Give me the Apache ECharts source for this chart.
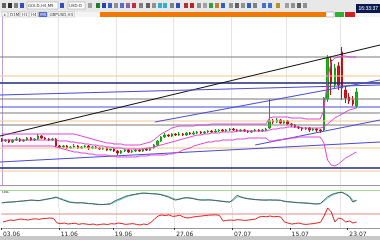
<!DOCTYPE html>
<html><head><meta charset="utf-8">
<script src="https://cdn.jsdelivr.net/npm/echarts@6/dist/echarts.min.js"></script>
<style>html,body{margin:0;padding:0;background:#fff;overflow:hidden}#c{width:380px;height:240px}</style>
</head><body><div id="c"></div>
<script>
// ---- candle data (price) ----
const opens=[1246,1244,1245,1243,1245,1246,1244,1245,1247,1245,1246,1249,1247,1246,1245,
1246,1239,1238,1239,1237,1238,1239,1237,1238,1239,1237,1238,1237,1236,1237,1235,
1236,1234,1232,1234,1235,1233,1234,1235,1234,1236,
1235,1237,1240,
1244,1248,1250,1249,1251,1250,1251,1250,1252,1251,
1252,1253,1252,1253,1254,1253,1254,1255,1254,1255,
1256,1255,1254,1255,1254,1253,1254,1255,1254,1255,
1257,
1264,1263,1265,1262,1264,1261,1260,1258,1257,1256,1257,1255,1256,1255,
1255,1286,1325,1300,1319,1333,1295,1288,1285,1279];
const closes=[1244,1245,1243,1245,1246,1244,1245,1247,1245,1246,1249,1247,1246,1245,1246,
1239,1238,1239,1237,1238,1239,1237,1238,1239,1237,1238,1237,1236,1237,1235,1236,
1234,1232,1234,1235,1233,1234,1235,1234,1236,1235,
1237,1240,1244,
1248,1250,1249,1251,1250,1251,1250,1252,1251,1252,
1253,1252,1253,1254,1253,1254,1255,1254,1255,1256,
1255,1254,1255,1254,1253,1254,1255,1254,1255,1256,
1264,
1263,1265,1262,1264,1261,1260,1258,1257,1256,1257,1255,1256,1255,1254,
1287,1327,1302,1317,1300,1297,1287,1284,1281,1293];
const highs=[1247,1246,1246,1246,1248,1247,1246,1248,1248,1247,1251,1250,1248,1247,1247,
1247,1240,1240,1240,1239,1241,1240,1239,1240,1240,1239,1239,1238,1238,1238,1237,
1237,1235,1235,1236,1236,1235,1236,1236,1237,1237,
1238,1241,1245,
1249,1252,1251,1252,1252,1253,1252,1253,1253,1254,
1254,1254,1254,1255,1255,1256,1256,1256,1256,1257,
1257,1256,1256,1256,1255,1255,1256,1256,1256,1257,
1286,
1266,1267,1266,1265,1265,1262,1261,1259,1258,1258,1258,1257,1257,1256,
1288,1330,1328,1321,1323,1338,1299,1292,1289,1297];
const lows=[1243,1243,1242,1242,1244,1243,1243,1244,1244,1244,1245,1246,1245,1244,1244,
1238,1237,1237,1236,1236,1237,1236,1236,1237,1235,1236,1236,1235,1235,1234,1234,
1233,1230,1231,1233,1232,1232,1233,1233,1233,1234,
1234,1236,1239,
1243,1247,1248,1248,1249,1249,1249,1249,1250,1250,
1251,1251,1251,1252,1252,1252,1253,1253,1253,1254,
1254,1253,1253,1253,1252,1252,1253,1253,1253,1254,
1256,
1261,1262,1261,1261,1260,1258,1257,1256,1254,1255,1253,1254,1253,1252,
1254,1283,1290,1297,1295,1285,1282,1281,1279,1277];
// ---- Bollinger bands ----
const bbUpper=[1251,1251,1251,1251,1251,1251,1251,1251,1251,1251,1251,1251,1251,1251,1251,1251,1251,1251,1251,1251,1251,
1250,1249,1248,1247,1246,1245,
1244,1243,1242,1242,1241,1241,1241,1240,1240,
1240,1240,1240,1241,1242,1243,1245,
1248,1251,1253,1255,1257,1258,
1259,1259,1259,1259,1259,1260,1260,1260,1260,1261,1261,1261,
1261,1261,1261,1261,1261,1261,1261,1261,1261,1261,1261,1261,1261,
1267,1268,1268,1268,1268,1268,1267,1267,1267,1267,1266,1266,1266,1266,1266,
1275,1305,1323,1327,1328,1329,1329,1328,1328,1328];
const bbMiddle=[1245,1245,1245,1245,1245,1245,1245,1245,1245,1245,1245,1245,1245,1245,1245,
1245,1244,1244,1244,1243,1243,
1242,1242,1241,1241,1240,1240,1239,1239,1238,1238,1237,1237,1237,1236,1236,
1236,1236,1236,1236,1237,1237,1238,1239,
1240,1241,1242,1243,1244,1245,1246,1247,1248,1249,1250,1250,1251,1251,1252,1252,1252,
1253,1253,1253,1253,1254,1254,1254,1254,1254,1254,1254,1254,1254,
1255,1256,1256,1257,1257,1258,1258,1258,1258,1257,1257,1257,1257,1257,1257,
1258,1261,1264,1267,1269,1271,1273,1275,1276,1277];
const bbLower=[1239,1239,1239,1239,1239,1239,1239,1239,1239,1239,1239,1239,1239,1239,1239,
1238,1237,1236,1235,1234,1233,1233,1232,1232,1231,
1231,1230,1230,1230,1230,1229,1229,1228,1228,1228,1228,1228,1228,1229,1229,1229,1230,1230,1230,
1230,1230,1231,1231,1232,1233,1235,1236,1237,1239,1240,1241,1242,1243,1243,1244,1244,
1245,1245,1245,1245,1246,1246,1246,1247,1247,1247,1247,1247,1247,
1244,1244,1245,1245,1246,1246,1247,1247,1248,1248,1248,1248,1248,1248,1248,
1242,1225,1220,1219,1221,1224,1227,1229,1231,1233];
// ---- horizontal levels (price) ----
const levels=[1328,1309,1302,1286,1278,1272,1264,1260,1237,1217,1214];
const levelKinds=['gray','orange','navy','gray','blue','gray','orange','gray','orange','navy','orange'];
// ---- trend lines: [startIndex, startPrice, endIndex, endPrice] ----
const trendLines=[[-0.5,1249,104.5,1340],[42.3,1263,104.5,1305],[-0.5,1290,104.5,1300],[-0.5,1223,104.5,1243],[70,1240,104.5,1265]];
const trendKinds=['black','blue','blue','blue','blue'];
// ---- oscillator panel ----
const oscMain=[23,25,27,27,29,31,32,34,36,35,33,36,39,42,45,50,42,36,30,25,24,23,24,22,20,19,17,15,16,17,19,30,38,44,52,57,60,63,66,68,67,65,64,63,60,55,50,42,36,40,45,47,45,42,38,36,36,37,36,34,32,30,28,27,40,58,50,45,42,40,38,37,36,36,37,36,36,35,30,28,27,25,24,23,22,21,19,18,20,35,50,60,66,70,72,62,52,27,35];
const oscSignal=[25,26,27,28,29,30,32,33,35,35,34,35,38,41,44,47,44,39,33,28,25,24,24,23,21,20,18,17,16,17,18,25,33,40,47,53,58,61,64,66,67,66,65,64,62,58,53,46,40,40,43,46,46,44,40,38,37,37,36,35,33,31,29,28,35,50,51,47,43,41,39,38,37,36,36,36,36,35,32,29,28,26,25,24,23,22,20,19,20,30,44,55,63,68,71,65,56,35,33];
const oscLevels=[80];
// ---- lower panel ----
const redLine=[30,35,40,38,42,45,42,40,44,46,43,47,48,50,48,25,22,25,20,22,24,18,22,20,17,20,15,18,20,17,22,20,25,22,18,20,22,18,15,20,17,28,45,60,65,62,66,58,60,64,55,50,52,56,58,60,62,64,65,66,63,35,38,40,38,42,40,38,40,42,45,55,58,56,60,56,58,55,30,25,20,22,25,20,18,20,22,25,28,60,100,80,30,50,45,30,35,25,30];
const bandRange=[66,74];
// ---- x axis ----
const dateLabels=['03.06','11.06','19.06','27.06','07.07','15.07','23.07'];
const labelIdx=[0,16,31,48,64,80,96];
const gridIdx=[16,32,48,64,79,94];
// ---- toolbar texts ----
const symbolText='GOLD,H4,M5';
const profileText='USD-D';
const clockText='16:33:37';
const tabTexts=['x','D1M','H1','H4','M5','GBPUSD,H4'];

const N=105;
const cats=[];for(let i=0;i<N;i++)cats.push(i);
const labelMap={};labelIdx.forEach((k,j)=>labelMap[k]=dateLabels[j]);
const candleData=opens.map((o,i)=>[o,closes[i],lows[i],highs[i]]);
const colorOf={gray:'#7a7a7a',orange:'#f2c48c',navy:'#1e2a78',blue:'#4a4ad8',black:'#111111'};

const series=[];
levels.forEach((p,k)=>series.push({type:'line',xAxisIndex:1,yAxisIndex:0,data:[[-0.5,p],[104.5,p]],symbol:'none',silent:true,
  lineStyle:{color:colorOf[levelKinds[k]],width:levelKinds[k]==='navy'?1.5:1}}));
trendLines.forEach((t,k)=>series.push({type:'line',xAxisIndex:1,yAxisIndex:0,data:[[t[0],t[1]],[t[2],t[3]]],symbol:'none',silent:true,
  lineStyle:{color:colorOf[trendKinds[k]],width:1}}));
[bbUpper,bbMiddle,bbLower].forEach(b=>series.push({type:'line',xAxisIndex:0,yAxisIndex:0,data:b,symbol:'none',silent:true,
  lineStyle:{color:'#e040d8',width:1}}));
series.push({type:'candlestick',xAxisIndex:0,yAxisIndex:0,data:candleData,barWidth:2,
  itemStyle:{color:'#10c010',color0:'#e01010',borderColor:'#10a010',borderColor0:'#c01010',borderWidth:1}});
series.push({type:'line',xAxisIndex:2,yAxisIndex:1,data:oscSignal,symbol:'none',silent:true,lineStyle:{color:'#40d8d0',width:1}});
series.push({type:'line',xAxisIndex:2,yAxisIndex:1,data:oscMain,symbol:'none',silent:true,lineStyle:{color:'#555555',width:1},
  markLine:{silent:true,symbol:'none',label:{show:false},lineStyle:{color:'#a8d8a0',type:'solid',width:1},data:oscLevels.map(v=>({yAxis:v}))}});
series.push({type:'line',xAxisIndex:3,yAxisIndex:2,data:redLine,symbol:'none',silent:true,lineStyle:{color:'#e02020',width:1},
  markArea:{silent:true,itemStyle:{color:'#e8b0b0'},data:[[{yAxis:bandRange[0]},{yAxis:bandRange[1]}]]}});

const hiddenCat=(g)=>({type:'category',gridIndex:g,data:cats,boundaryGap:true,axisLabel:{show:false},axisTick:{show:false},
  axisLine:{show:false},splitLine:{show:true,interval:(i)=>gridIdx.includes(i),lineStyle:{color:'#e4e4e4',width:1}}});

// toolbar decorations
const icons=[[2,'#606060'],[8,'#303030'],[14,'#808080'],[20,'#3050c0'],[60,'#3050c0'],[88,'#a0a0a0'],[96,'#208020'],[102,'#3040b0'],
 [108,'#4060c0'],[114,'#909090'],[120,'#5070d0'],[126,'#9060b0'],[132,'#c03030'],[139,'#808080'],[146,'#606060'],[152,'#909090'],
 [158,'#30b0d0'],[163,'#30b0d0'],[170,'#808080'],[176,'#3050c0'],[184,'#b03030'],[190,'#c02020'],[197,'#909090'],[203,'#a0a0a0'],
 [209,'#30a030'],[215,'#c08030'],[221,'#3060c0'],[229,'#909090'],[235,'#606060'],[241,'#909090'],[247,'#3060c0'],[253,'#808080'],
 [262,'#4070d0'],[268,'#4070d0'],[276,'#c09020'],[285,'#a0a0a0'],[291,'#909090'],[297,'#606060'],[303,'#909090']];
const graphics=[
  {type:'rect',shape:{x:0,y:0,width:380,height:12},style:{fill:'#e8e8e8'},silent:true},
  {type:'rect',shape:{x:0,y:12,width:380,height:5},style:{fill:'#f4f4f4'},silent:true},
  {type:'rect',shape:{x:100,y:12,width:226,height:5},style:{fill:'#f07800'},silent:true},
  {type:'rect',shape:{x:27,y:2,width:31,height:7},style:{fill:'#fff',stroke:'#999',lineWidth:0.5}},
  {type:'text',x:28,y:3.5,style:{text:symbolText,fontSize:4,fill:'#333',fontFamily:'DejaVu Sans'}},
  {type:'rect',shape:{x:68,y:2,width:17,height:7},style:{fill:'#fff',stroke:'#999',lineWidth:0.5}},
  {type:'text',x:69,y:3.5,style:{text:profileText,fontSize:4,fill:'#333',fontFamily:'DejaVu Sans'}},
  {type:'rect',shape:{x:356,y:4,width:24,height:9},style:{fill:'#0a1a50'}},
  {type:'text',x:358.5,y:6,style:{text:clockText,fontSize:5,fill:'#fff',fontFamily:'Liberation Sans'}},
  {type:'rect',shape:{x:326,y:12,width:8,height:5},style:{fill:'#ffffff',stroke:'#888',lineWidth:0.5}},
  {type:'rect',shape:{x:335,y:12,width:9,height:5},style:{fill:'#30b030'}},
  {type:'rect',shape:{x:345,y:12,width:10,height:5},style:{fill:'#d02020'}},
  {type:'rect',shape:{x:0,y:185,width:380,height:1},style:{fill:'#999'}},
  {type:'rect',shape:{x:0,y:236,width:380,height:4},style:{fill:'#c8c8c8'}},
  {type:'text',x:2,y:189.5,style:{text:'Osc',fontSize:4,fill:'#222',fontFamily:'DejaVu Sans'}}
];
icons.forEach(ic=>graphics.push({type:'rect',shape:{x:ic[0],y:3,width:4,height:5},style:{fill:ic[1]},silent:true}));
let tx=2;
tabTexts.forEach((t,k)=>{const w=t.length*2.6+3;graphics.push({type:'rect',shape:{x:tx,y:12,width:w,height:5},style:{fill:k===4?'#4060d0':'#fff',stroke:'#999',lineWidth:0.4}});
  graphics.push({type:'text',x:tx+1.5,y:12.5,style:{text:t,fontSize:4,fill:k===4?'#fff':'#333',fontFamily:'DejaVu Sans'}});tx+=w+1;});

const opt={
  animation:false,
  grid:[{left:0,right:0,top:17,height:168},{left:0,right:0,top:186,height:22},{left:0,right:0,top:208,height:20}],
  xAxis:[
    hiddenCat(0),
    {type:'value',gridIndex:0,min:-0.5,max:104.5,show:false},
    hiddenCat(1),
    Object.assign(hiddenCat(2),{axisLine:{show:true,lineStyle:{color:'#9a9a9a'}},
      axisTick:{show:true,interval:(i)=>labelIdx.includes(i),length:2,lineStyle:{color:'#333'}},
      axisLabel:{show:true,interval:(i)=>labelIdx.includes(i),formatter:(v)=>labelMap[v]||'',align:'left',
        fontSize:6,color:'#222',fontFamily:'DejaVu Sans',margin:3}})
  ],
  yAxis:[
    {type:'value',gridIndex:0,min:1200,max:1368,axisLabel:{show:false},axisTick:{show:false},splitLine:{show:false},
      axisLine:{show:true,lineStyle:{color:'#b8a0e0'}}},
    {type:'value',gridIndex:1,min:0,max:100,show:false,splitLine:{show:false}},
    {type:'value',gridIndex:2,min:0,max:100,show:false,splitLine:{show:false}}
  ],
  series:series,
  graphic:graphics
};
const ch=echarts.init(document.getElementById('c'),null,{renderer:'canvas'});
ch.setOption(opt);
</script></body></html>
